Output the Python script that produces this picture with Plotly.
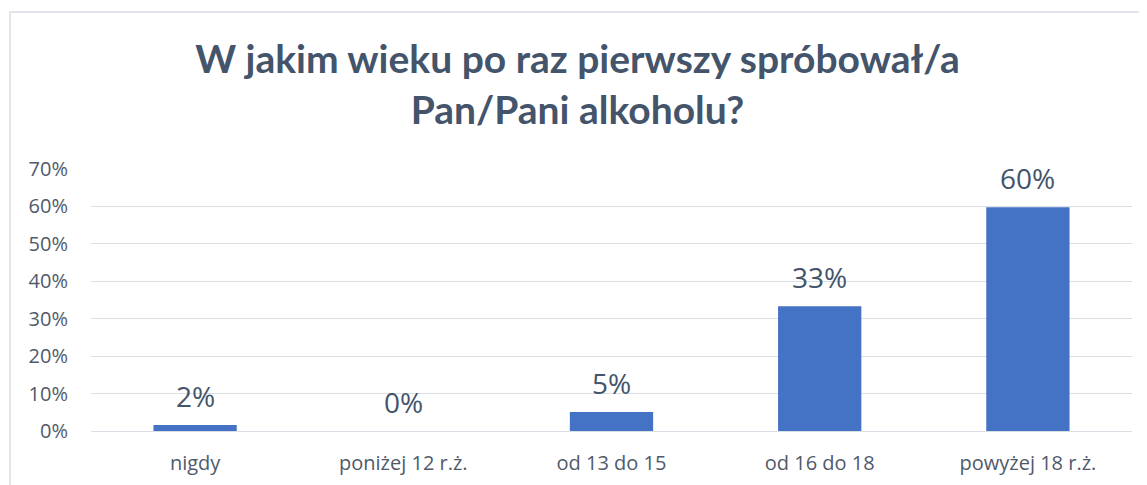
import plotly.graph_objects as go

categories = ["nigdy", "poniżej 12 r.ż.", "od 13 do 15", "od 16 do 18", "powyżej 18 r.ż."]
values = [1.6, 0, 5.1, 33.3, 59.8]
labels = ["2%", "0%", "5%", "33%", "60%"]
y_ticks = [0, 10, 20, 30, 40, 50, 60, 70]
y_tick_labels = [f"{v}%" for v in y_ticks]

# page body has an 8px margin; size the figure so it fits the window
W, H = 1139, 477
L, R, T, B = 83, 15, 161, 54

fig = go.Figure(go.Bar(
    x=categories, y=values,
    marker=dict(color="#4472C4", line=dict(width=0)),
    width=0.4,
))

for c, v, t in zip(categories, values, labels):
    fig.add_annotation(x=c, y=v, text=t, showarrow=False, yanchor="middle", yshift=29,
                       font=dict(family="Open Sans", size=28, color="#44546A"))

ph = H - T - B
pw = W - L - R
fig.add_shape(type="rect", xref="paper", yref="paper",
              x0=(2 - L) / pw, x1=(W + 20 - L) / pw,
              y0=-(B + 20) / ph, y1=(H - B - 4) / ph,
              line=dict(color="#D9DEE5", width=1.5), fillcolor="rgba(0,0,0,0)", layer="below")

fig.update_layout(
    width=W, height=H,
    margin=dict(l=L, r=R, t=T, b=B, autoexpand=False),
    paper_bgcolor="white", plot_bgcolor="white",
    showlegend=False,
    title=dict(text="<b>W jakim wieku po raz pierwszy spróbował/a<br>Pan/Pani alkoholu?</b>",
               x=0.5, xanchor="center", y=0.864, yanchor="top",
               font=dict(family="Lato", size=39, color="#44546A")),
    font=dict(family="Open Sans", color="#505A6B"),
)
fig.update_yaxes(range=[0, 70], tickvals=y_ticks, ticktext=y_tick_labels, automargin=False,
                 showgrid=True, gridcolor="#DADFE6", gridwidth=1.3, zeroline=False,
                 showline=False, tickfont=dict(family="Open Sans", size=20, color="#505A6B"), ticks="",
                 ticklabelstandoff=22)
fig.update_xaxes(showgrid=False, showline=True, linecolor="#DADFE6", linewidth=1.3, automargin=False,
                 tickfont=dict(family="Open Sans", size=20, color="#505A6B"), ticks="", ticklabelstandoff=14)

fig.write_html("out.html")
